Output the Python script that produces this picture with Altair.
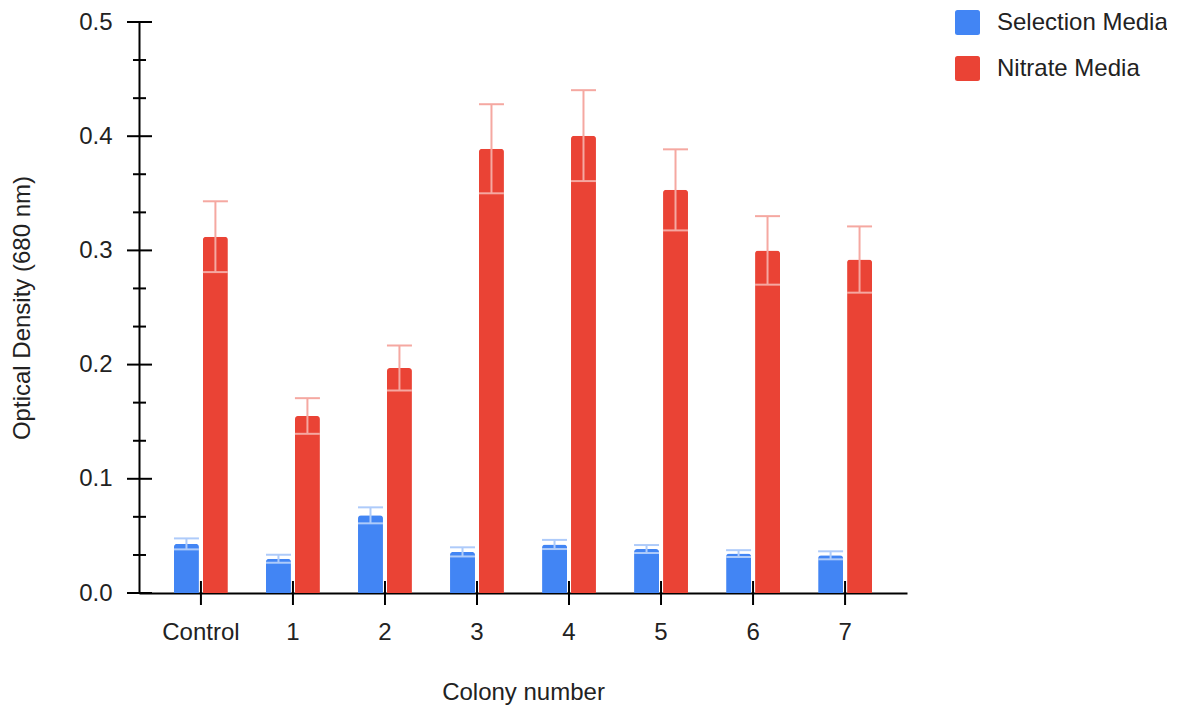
import altair as alt
import pandas as pd

colonies = ["Control", "1", "2", "3", "4", "5", "6", "7"]
series_names = ["Selection Media", "Nitrate Media"]
selection_values = [0.043, 0.030, 0.068, 0.036, 0.0425, 0.0385, 0.0345, 0.033]
selection_errors = [0.0048, 0.0035, 0.007, 0.004, 0.004, 0.0035, 0.003, 0.0035]
nitrate_values = [0.312, 0.155, 0.197, 0.389, 0.4005, 0.353, 0.300, 0.292]
nitrate_errors = [0.031, 0.0156, 0.0197, 0.039, 0.0398, 0.0355, 0.030, 0.029]
y_major_ticks = [0.0, 0.1, 0.2, 0.3, 0.4, 0.5]
y_minor_ticks = [0.0333, 0.0667, 0.1333, 0.1667, 0.2333, 0.2667,
                 0.3333, 0.3667, 0.4333, 0.4667]
bar_colors = ["#4285F4", "#EA4335"]
error_colors = ["#AECBFA", "#F5A8A1"]

FONT = "Liberation Sans"

rows = []
for name, vals, errs in [(series_names[0], selection_values, selection_errors),
                         (series_names[1], nitrate_values, nitrate_errors)]:
    for c, v, e in zip(colonies, vals, errs):
        rows.append({"colony": c, "series": name, "value": v,
                     "lo": v - e, "hi": v + e})
df = pd.DataFrame(rows)

y_scale = alt.Scale(domain=[0, 0.5], nice=False, zero=True)
y_axis = alt.Axis(values=y_major_ticks, format=".1f", grid=False,
                  domainColor="black", domainWidth=2,
                  tickColor="transparent", tickSize=12, labelPadding=15,
                  labelFontSize=24, labelColor="#222", labelFont=FONT,
                  titleFontSize=24, titleColor="#222", titleFont=FONT,
                  titleFontWeight="normal", titlePadding=44)
x_scale = alt.Scale(domain=colonies, paddingInner=0.414, paddingOuter=0.38)
x_axis = alt.Axis(labelAngle=0, grid=False,
                  domainColor="black", domainWidth=2,
                  tickColor="transparent", tickSize=12, labelPadding=15,
                  labelFontSize=24, labelColor="#222", labelFont=FONT,
                  titleFontSize=24, titleColor="#222", titleFont=FONT,
                  titleFontWeight="normal", titlePadding=36)

X = alt.X("colony:N", sort=colonies, scale=x_scale, axis=x_axis, title="Colony number")
XO = alt.XOffset("series:N", sort=series_names,
                 scale=alt.Scale(domain=series_names, paddingInner=0.138, paddingOuter=0))

def Y(field="value"):
    return alt.Y(f"{field}:Q", scale=y_scale, axis=y_axis, title="Optical Density (680 nm)")

rounded_square = ("M -0.8 -1 L 0.8 -1 Q 1 -1 1 -0.8 L 1 0.8 Q 1 1 0.8 1 "
                  "L -0.8 1 Q -1 1 -1 0.8 L -1 -0.8 Q -1 -1 -0.8 -1 Z")

bars = alt.Chart(df).mark_bar(cornerRadiusTopLeft=3, cornerRadiusTopRight=3).encode(
    x=X, xOffset=XO, y=Y("value"),
    color=alt.Color("series:N", sort=series_names,
                    scale=alt.Scale(domain=series_names, range=bar_colors),
                    legend=alt.Legend(title=None, orient="none", legendX=816, legendY=-12,
                                      symbolType=rounded_square, symbolSize=625,
                                      symbolStrokeWidth=0, symbolOpacity=1,
                                      labelFontSize=24, labelFont=FONT, labelColor="#222",
                                      labelOffset=17, rowPadding=21, padding=0,
                                      labelLimit=400))
)

layers = [bars]
for name, ecol in zip(series_names, error_colors):
    sub = df[df["series"] == name]
    base = alt.Chart(sub)
    layers.append(base.mark_rule(color=ecol, strokeWidth=2).encode(
        x=X, xOffset=XO, y=Y("lo"), y2="hi"))
    layers.append(base.mark_tick(color=ecol, thickness=2, size=25, opacity=1).encode(
        x=X, xOffset=XO, y=Y("hi")))
    layers.append(base.mark_tick(color=ecol, thickness=2, size=25, opacity=1).encode(
        x=X, xOffset=XO, y=Y("lo")))

major = alt.Chart(pd.DataFrame({"value": y_major_ticks})).mark_rule(
    color="black", strokeWidth=2).encode(
    y=Y("value"), x=alt.value(-12), x2=alt.value(13))
minor = alt.Chart(pd.DataFrame({"value": y_minor_ticks})).mark_rule(
    color="black", strokeWidth=2).encode(
    y=Y("value"), x=alt.value(-6), x2=alt.value(7))
xticks = alt.Chart(pd.DataFrame({"colony": colonies})).mark_rule(
    color="black", strokeWidth=2).encode(
    x=X, y=alt.value(559), y2=alt.value(583))
layers += [major, minor, xticks]

chart = alt.layer(*layers).properties(
    width=768, height=571,
    padding={"left": 131, "top": 14, "right": 260, "bottom": 112},
    autosize=alt.AutoSizeParams(type="none"),
).configure(font=FONT).configure_view(stroke=None, strokeWidth=0)

chart.save("out.html", embed_options={"renderer": "svg", "actions": False})
